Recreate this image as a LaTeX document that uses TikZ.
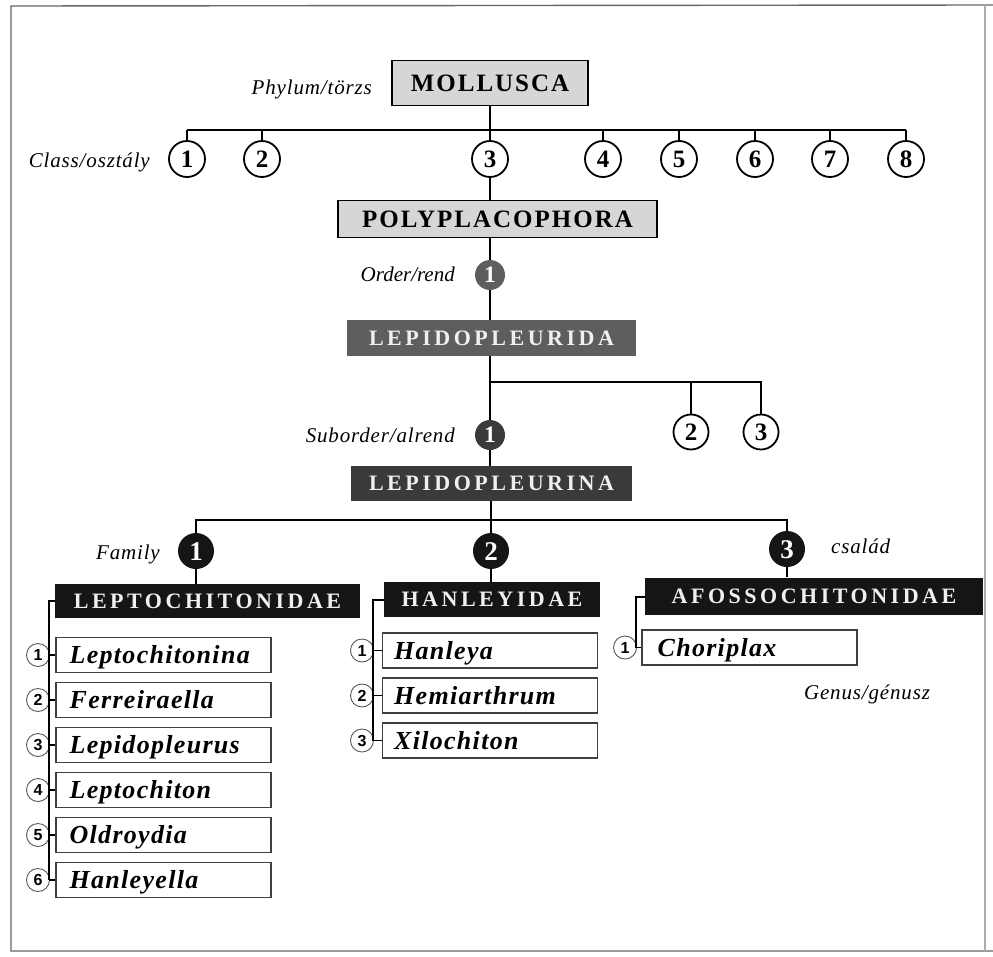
\documentclass[tikz,border=0pt]{standalone}
\usepackage{fontspec}
\setmainfont{Liberation Serif}
\newfontfamily\capsA[LetterSpace=8]{Liberation Serif}
\newfontfamily\capsB[LetterSpace=16]{Liberation Serif}
\newfontfamily\genf[LetterSpace=5]{Liberation Serif}
\newfontfamily\labf[LetterSpace=4]{Liberation Serif}
\newfontfamily\numf{Liberation Sans}
\definecolor{lightbox}{HTML}{D6D6D6}
\definecolor{ordgray}{HTML}{5E5E5E}
\definecolor{subgray}{HTML}{3A3A3A}
\definecolor{famblack}{HTML}{151515}
\definecolor{framegray}{HTML}{666666}
\tikzset{
  tree/.style={line width=1.8pt, draw=black},
  brk/.style={line width=1.3pt, draw=black},
  frameline/.style={line width=1.4pt, draw=framegray},
  topbox/.style={draw=black, line width=1.8pt, fill=lightbox, inner sep=0pt,
    text height=16.8pt, text depth=0pt,
    font=\capsA\bfseries\fontsize{25}{30}\selectfont},
  darkbox/.style={fill=#1, text=white!94!black, inner sep=0pt,
    text height=14.8pt, text depth=0pt,
    font=\capsB\bfseries\fontsize{22}{26}\selectfont},
  ocirc/.style={circle, draw=black, line width=1.8pt, fill=white, minimum size=36pt,
    inner sep=0pt, text height=16.9pt, text depth=0pt,
    font=\bfseries\fontsize{25}{30}\selectfont},
  famcirc/.style={circle, fill=famblack, text=white, minimum size=36pt, inner sep=0pt,
    text height=18.2pt, text depth=0pt, font=\bfseries\fontsize{27}{32}\selectfont},
  rankcirc/.style={circle, fill=#1, text=white, minimum size=30pt, inner sep=0pt,
    text height=15.8pt, text depth=0pt, font=\bfseries\fontsize{23.5}{28}\selectfont},
  scirc/.style={circle, draw=black!65, line width=0.9pt, fill=white, minimum size=23pt,
    inner sep=0pt, text height=11.5pt, text depth=0pt,
    font=\numf\bfseries\fontsize{16}{18}\selectfont},
  gbox/.style={draw=black!75, line width=1.1pt, minimum width=215pt, minimum height=35pt,
    inner sep=0pt},
  gtext/.style={inner sep=0pt, anchor=west, text height=17.2pt, text depth=0pt,
    font=\genf\bfseries\itshape\fontsize{26}{30}\selectfont},
  lab/.style={inner sep=0pt, text height=13.9pt, text depth=0pt,
    font=\labf\itshape\fontsize{21}{25}\selectfont},
}
\begin{document}
\begin{tikzpicture}[x=1pt,y=-1pt]
\useasboundingbox (0,0) rectangle (993,956);
\fill[white] (0,0) rectangle (993,956);
\draw[frameline] (993,5) -- (11,6) -- (11,951) -- (993,951);
\draw[frameline, draw=framegray!55, line width=1.1pt] (985,5) -- (985,951);

% Phylum
\node[topbox, minimum width=196pt, minimum height=45pt] (moll) at (490,83) {MOLLUSCA};
\node[lab, anchor=east] (phyl) at (372,88) {Phylum/törzs};

% Classes
\coordinate (cl) at (490,130);
\foreach \n/\x in {1/187,2/262,3/490,4/603,5/679,6/755,7/830,8/906}{
  \node[ocirc] (c\n) at (\x,159) {\n};
  \draw[tree] (c\n.north) -- (c\n.north |- cl);
}
\draw[tree] (c1.north |- cl) -- (c8.north |- cl);
\draw[tree] (moll.south -| cl) -- (cl);
\node[lab, anchor=east] (clas) at (150,161) {Class/osztály};

% Polyplacophora
\node[topbox, minimum width=319pt, minimum height=37pt] (poly) at (497.5,219) {POLYPLACOPHORA};
\draw[tree] (c3.south) -- (c3.south |- poly.north);

% Order
\node[rankcirc=ordgray] (oc) at (490,275) {1};
\node[lab, anchor=east, font=\itshape\fontsize{21}{25}\selectfont] (ordl) at (455,275) {Order/rend};
\node[darkbox=ordgray, minimum width=289pt, minimum height=36pt] (lpa) at (491.5,338) {LEPIDOPLEURIDA};
\draw[tree] (oc |- poly.south) -- (oc.north);
\draw[tree] (oc.south) -- (oc |- lpa.north);

% Suborders
\coordinate (ol) at (490,382);
\node[ocirc, minimum size=35pt] (o2) at (691,432) {2};
\node[ocirc, minimum size=35pt] (o3) at (761,432) {3};
\node[rankcirc=subgray] (sc) at (490,435) {1};
\node[lab, anchor=east] (subl) at (455,436) {Suborder/alrend};
\node[darkbox=subgray, minimum width=281pt, minimum height=35pt] (lpi) at (491.5,483.5) {LEPIDOPLEURINA};
\draw[tree] (sc |- lpa.south) -- (sc.north);
\draw[tree] (ol) -| (o3.north);
\draw[tree] (ol -| o2) -- (o2.north);
\draw[tree] (sc.south) -- (sc |- lpi.north);

% Families
\coordinate (fl) at (490,520);
\node[famcirc] (fc1) at (196,551) {1};
\node[famcirc] (fc2) at (491,551) {2};
\node[famcirc] (fc3) at (787,549) {3};
\draw[tree] (lpi.south -| fc2) -- (fc2.north);
\draw[tree] (fc1.north) -- (fc1 |- fl) -- (fc3 |- fl) -- (fc3.north);
\node[lab, anchor=east] (faml) at (160,553) {Family};
\node[lab, anchor=west] (csal) at (831,547) {család};

\node[darkbox=famblack, minimum width=305pt, minimum height=34pt] (lf) at (207.5,601) {LEPTOCHITONIDAE};
\node[darkbox=famblack, minimum width=216pt, minimum height=35pt] (hf) at (492,599.5) {HANLEYIDAE};
\node[darkbox=famblack, minimum width=338pt, minimum height=37pt] (af) at (814,596) {AFOSSOCHITONIDAE};
\draw[tree] (fc1.south) -- (fc1 |- lf.north);
\draw[tree] (fc2.south) -- (fc2 |- hf.north);
\draw[tree] (fc3.south) -- (fc3 |- af.north);

% Genera: Leptochitonidae
\coordinate (lbr) at (49,601);
\foreach \n/\y/\t in {1/655/Leptochitonina,2/700/Ferreiraella,3/745/Lepidopleurus,4/790/Leptochiton,5/835/Oldroydia,6/880/Hanleyella}{
  \node[gbox] (lg\n) at (163.5,\y) {};
  \node[gtext] (lgt\n) at ([xshift=14pt]lg\n.west) {\t};
  \node[scirc] (ln\n) at (38,\y) {\n};
  \draw[brk] (lbr |- lg\n.west) -- (lg\n.west);
}
\draw[brk] (lf.west) -- (lbr) -- (lbr |- lg6.west);

% Genera: Hanleyidae
\coordinate (hbr) at (373,600);
\foreach \n/\y/\t in {1/650.5/Hanleya,2/695.5/Hemiarthrum,3/740.5/Xilochiton}{
  \node[gbox] (hg\n) at (490,\y) {};
  \node[gtext] (hgt\n) at ([xshift=12pt]hg\n.west) {\t};
  \node[scirc] (hn\n) at (362,\y) {\n};
  \draw[brk] (hbr |- hg\n.west) -- (hg\n.west);
}
\draw[brk] (hf.west |- hbr) -- (hbr) -- (hbr |- hg3.west);

% Genera: Afossochitonidae
\coordinate (abr) at (636,597);
\node[gbox] (ag1) at (749.5,647.5) {};
\node[gtext] (agt1) at ([xshift=16pt]ag1.west) {Choriplax};
\node[scirc] (an1) at (625,647.5) {1};
\draw[brk] (af.west |- abr) -- (abr) -- (abr |- ag1.west) -- (ag1.west);

\node[lab] (genl) at (867,693) {Genus/génusz};
\end{tikzpicture}
\end{document}
